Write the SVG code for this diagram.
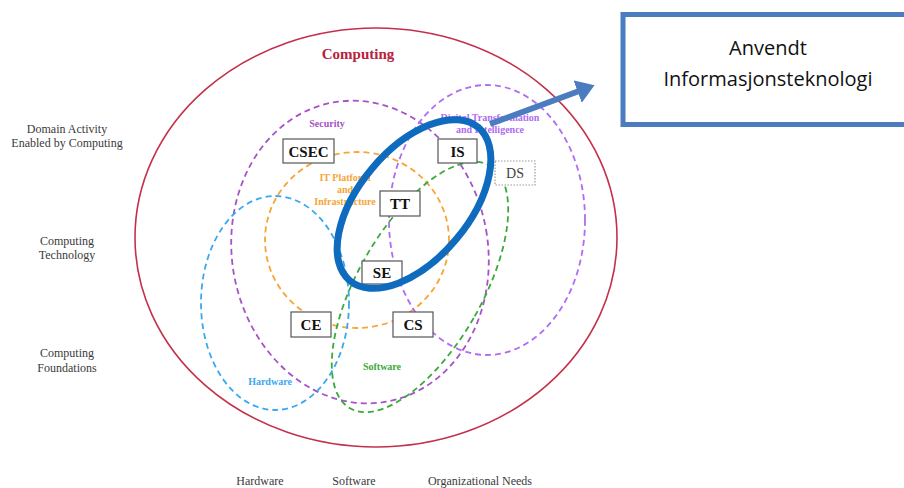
<svg xmlns="http://www.w3.org/2000/svg" width="904" height="488" viewBox="0 0 904 488">
<style>
.ser{font-family:"Liberation Serif","Times New Roman",serif}
.lbl{font-family:"Liberation Serif",serif;font-size:12px;fill:#3a3a3a;text-anchor:middle}
.box rect{fill:#fff;stroke:#555;stroke-width:1.2}
.box text{font-family:"Liberation Serif",serif;font-weight:bold;font-size:15px;fill:#111;text-anchor:middle}
.area{fill:none;stroke-width:1.8;stroke-dasharray:6 4}
.al{font-family:"Liberation Serif",serif;font-weight:bold;font-size:10px;text-anchor:middle}
</style>
<defs>
<marker id="ah" markerWidth="4" markerHeight="4" refX="2.2" refY="2" orient="auto" markerUnits="strokeWidth">
<path d="M0,0 L3,2 L0,4 Z" fill="#4a7cbf"/>
</marker>
</defs>
<rect width="904" height="488" fill="#fff"/>
<g id="computing">
<ellipse cx="376" cy="237.5" rx="241" ry="209.5" fill="none" stroke="#c4304a" stroke-width="1.6"/>
<text x="358" y="59" class="ser" font-size="15" font-weight="bold" fill="#b8203c" text-anchor="middle">Computing</text>
</g>
<g id="areas">
<ellipse id="security" class="area" cx="360" cy="252" rx="128" ry="152" transform="rotate(-10 360 252)" stroke="#a653c6"/>
<ellipse id="itplatform" class="area" cx="357" cy="240" rx="92" ry="88" stroke="#f7a535"/>
<ellipse id="hardware" class="area" cx="275" cy="303" rx="74" ry="107" stroke="#3aa8f0"/>
<ellipse id="software" class="area" cx="420" cy="287" rx="62" ry="140" transform="rotate(30 420 287)" stroke="#3aaa3a"/>
<ellipse id="digital" class="area" cx="487" cy="220" rx="98" ry="135" stroke="#b06cf2"/>
<text class="al" x="327" y="127" fill="#a653c6">Security</text>
<text class="al" fill="#f7a535"><tspan x="345" y="181">IT Platform</tspan><tspan x="345" y="193">and</tspan><tspan x="345" y="205">Infrastructure</tspan></text>
<text class="al" fill="#b06cf2"><tspan x="490" y="121">Digital Transformation</tspan><tspan x="490" y="133">and Intelligence</tspan></text>
<text class="al" x="270" y="385" fill="#3aa8f0">Hardware</text>
<text class="al" x="382" y="370" fill="#3aaa3a">Software</text>
</g>
<g id="CSEC" class="box"><rect x="283" y="139" width="51" height="24"/><text x="308.5" y="156.5">CSEC</text></g>
<g id="IS" class="box"><rect x="438" y="139" width="39" height="24"/><text x="457.5" y="156.5">IS</text></g>
<g id="DS"><rect x="495" y="161" width="40" height="24" fill="#fff" stroke="#999" stroke-width="1.2" stroke-dasharray="1.5 1.5"/><text x="515" y="178" class="ser" font-size="14" fill="#444" text-anchor="middle">DS</text></g>
<g id="TT" class="box"><rect x="380" y="191" width="40" height="25"/><text x="400" y="208.5">TT</text></g>
<g id="SE" class="box"><rect x="362" y="261" width="40" height="23"/><text x="382" y="277.5">SE</text></g>
<g id="CE" class="box"><rect x="291" y="312" width="40" height="25"/><text x="311" y="329.5">CE</text></g>
<g id="CS" class="box"><rect x="393" y="312" width="40" height="25"/><text x="413" y="329.5">CS</text></g>
<g id="axis-labels">
<text class="lbl"><tspan x="67" y="133">Domain Activity</tspan><tspan x="67" y="147">Enabled by Computing</tspan></text>
<text class="lbl"><tspan x="67" y="245">Computing</tspan><tspan x="67" y="259">Technology</tspan></text>
<text class="lbl"><tspan x="67" y="357">Computing</tspan><tspan x="67" y="372">Foundations</tspan></text>
<text class="lbl" x="260" y="485">Hardware</text>
<text class="lbl" x="354" y="485">Software</text>
<text class="lbl" x="480" y="485">Organizational Needs</text>
</g>
<g id="highlight">
<ellipse cx="414" cy="204" rx="55" ry="100" transform="rotate(40 414 204)" fill="none" stroke="#0f6bbd" stroke-width="7"/>
</g>
<g id="connectors">
<line x1="490" y1="124" x2="590" y2="87" stroke="#4a7cbf" stroke-width="6" marker-end="url(#ah)"/>
</g>
<g id="anvendt">
<rect x="623" y="14.5" width="290" height="110" fill="#fff" stroke="#4a7cbf" stroke-width="5"/>
<text x="768" y="55" font-family="Open Sans, Liberation Sans, sans-serif" font-size="20" fill="#111" text-anchor="middle">Anvendt</text>
<text x="768" y="86" font-family="Open Sans, Liberation Sans, sans-serif" font-size="20" fill="#111" text-anchor="middle">Informasjonsteknologi</text>
</g>
</svg>
